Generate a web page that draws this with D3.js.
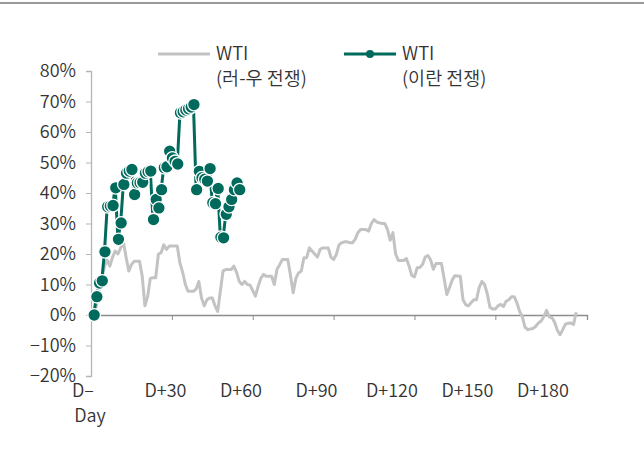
<!DOCTYPE html>
<html>
<head>
<meta charset="utf-8">
<script src="https://cdn.jsdelivr.net/npm/d3@7"></script>
<style>
  html, body { margin: 0; padding: 0; background: #fff; }
  svg text { font-family: "Noto Sans CJK KR", "Noto Sans", sans-serif; font-weight: 350; fill: #333; }
</style>
</head>
<body>
<svg id="chart" width="644" height="450"></svg>
<script>
// WTI price change from D-Day: Russia-Ukraine war vs Iran war (%)
const SERIES_NAMES = ["WTI\n(러-우 전쟁)", "WTI\n(이란 전쟁)"];

// gray: WTI after Russia-Ukraine war, one value per day index
const russiaUkraine = [
  0, 3, 8, 12, 16, 18, 16, 19, 21, 20,
  22, 24, 19, 14.4, 16.5, 17.6, 17.6, 17.6, 12.7, 3,
  6, 12, 12.2, 12.2, 20, 20.4, 23, 21.5, 22.6, 22.6,
  22.6, 22.6, 17, 14, 10, 7.8, 7.8, 7.8, 8.5, 11,
  5.6, 3, 5, 5.6, 5.6, 3, 1.2, 8, 14.5, 14.9,
  14.9, 14.9, 16, 14, 11, 10, 11, 10, 9.8, 8,
  6.2, 9.4, 12, 13.3, 12.7, 12.7, 12.7, 10, 15, 16.5,
  18.2, 18.2, 18.2, 13, 7.3, 12, 13.8, 14.4, 18.8, 18.8,
  22, 21, 20, 19, 21.5, 22, 22, 22, 19, 18.2,
  19.8, 23, 23.7, 24, 24, 23.7, 23.7, 24.8, 27, 28,
  28, 28, 27.5, 30, 31.3, 30.5, 30.2, 30, 30, 28,
  24.5, 27, 20, 17.9, 17.9, 17.9, 18.5, 16, 13, 12.5,
  15.5, 15.6, 16.6, 19, 19.5, 18, 15, 16.9, 16.9, 16.9,
  12, 6.7, 9, 11.5, 12.9, 12.8, 12.7, 5, 3.4, 3,
  4, 5, 5, 9, 11, 10, 7, 2.5, 2, 2,
  3, 3.5, 2.8, 4.5, 5, 6, 6, 4, 1.2, -0.5,
  -4, -4.8, -4.6, -4.4, -3.7, -2.6, -2, -0.5, 1.5, -0.6,
  -0.9, -2.4, -5, -6.5, -4.8, -3, -2.7, -2.6, -3.1, 0.9
];

// green: WTI after Iran war
const iranWar = [
  0, 6, 10.5, 11.2, 20.7, 35.5, 35.7, 35.9, 41.7, 24.8,
  30.2, 42.8, 46.5, 47.2, 47.7, 39.5, 43.3, 43.4, 43.5, 46.5,
  47, 47.2, 31.3, 37.9, 35.1, 41.1, 48.3, 48.6, 53.7, 51.5,
  50.4, 49.5, 66.3, 66.6, 67.2, 67.6, 68.2, 69, 41.1, 47.1,
  45, 44.5, 43.9, 48, 36.8, 36.5, 41.5, 25.5, 25.3, 33,
  35.5, 37.9, 41.1, 43.3, 41.1
];

const Y_TICKS = [-20, -10, 0, 10, 20, 30, 40, 50, 60, 70, 80];
const X_LABELS = ["D–Day", "D+30", "D+60", "D+90", "D+120", "D+150", "D+180"];

const GRAY = "#c3c3c3";
const GREEN = "#006a5c";

const svg = d3.select("#chart");

// top rule
svg.append("line")
  .attr("x1", 0).attr("x2", 644).attr("y1", 3).attr("y2", 3)
  .attr("stroke", "#999").attr("stroke-width", 2);

const x = d3.scaleLinear().domain([-1, 183]).range([91, 587]);
const y = d3.scaleLinear().domain([-20, 80]).range([376, 71]);

// y axis
const gy = svg.append("g").attr("transform", `translate(${x(-1)},0)`);
gy.call(d3.axisLeft(y).tickValues(Y_TICKS).tickSize(5).tickPadding(10)
  .tickFormat((d) => (d < 0 ? "−" + Math.abs(d) : d) + "%"));
gy.select(".domain").attr("stroke", "#b5b5b5").attr("stroke-width", 1.3);
gy.selectAll(".tick line").attr("stroke", "#b5b5b5");
gy.selectAll(".tick text").attr("font-size", 18).attr("fill", "#333");

// x axis along 0%
const gx = svg.append("g").attr("transform", `translate(0,${y(0)})`);
gx.call(d3.axisBottom(x).tickValues(d3.range(1, 6).map((k) => -1 + 30 * k))
  .tickSize(5).tickFormat(""));
gx.select(".domain").attr("stroke", "#8c8c8c").attr("stroke-width", 1.3);
gx.selectAll(".tick line").attr("stroke", "#8c8c8c");

// x labels every 28 day-steps, below the plot
const xl = svg.append("g");
X_LABELS.forEach((lab, k) => {
  const cx = x(-1 + 28 * k);
  const t = xl.append("text").attr("font-size", 18).attr("text-anchor", "middle");
  if (lab === "D–Day") {
    t.append("tspan").attr("x", cx - 8).attr("y", 397).text("D–");
    t.append("tspan").attr("x", cx - 1).attr("y", 422).text("Day");
  } else {
    t.attr("x", cx - 1).attr("y", 397).text(lab);
  }
});

const line = d3.line().x((d, i) => x(i)).y((d) => y(d));

svg.append("path")
  .attr("d", line(russiaUkraine))
  .attr("fill", "none").attr("stroke", GRAY)
  .attr("stroke-width", 3).attr("stroke-linejoin", "round");

svg.append("path")
  .attr("d", line(iranWar))
  .attr("fill", "none").attr("stroke", GREEN)
  .attr("stroke-width", 3).attr("stroke-linejoin", "round");

svg.append("g").selectAll("circle")
  .data(iranWar)
  .join("circle")
  .attr("cx", (d, i) => x(i) + 0.5)
  .attr("cy", (d) => y(d))
  .attr("r", 6.3)
  .attr("fill", GREEN)
  .attr("stroke", "#fff").attr("stroke-width", 1.3);

// legend
const legend = svg.append("g");
const LEG = [{ x0: 158, color: GRAY, dot: false }, { x0: 344, color: GREEN, dot: true }];
LEG.forEach((l, k) => {
  legend.append("line")
    .attr("x1", l.x0).attr("x2", l.x0 + 52).attr("y1", 54).attr("y2", 54)
    .attr("stroke", l.color).attr("stroke-width", 3);
  if (l.dot) {
    legend.append("circle").attr("cx", l.x0 + 26).attr("cy", 54).attr("r", 4).attr("fill", l.color);
  }
  const lines = SERIES_NAMES[k].split("\n");
  const t = legend.append("text").attr("font-size", 18.5);
  lines.forEach((s, j) => {
    t.append("tspan").attr("x", l.x0 + 58).attr("y", 60 + j * 25).text(s);
  });
});
</script>
</body>
</html>
